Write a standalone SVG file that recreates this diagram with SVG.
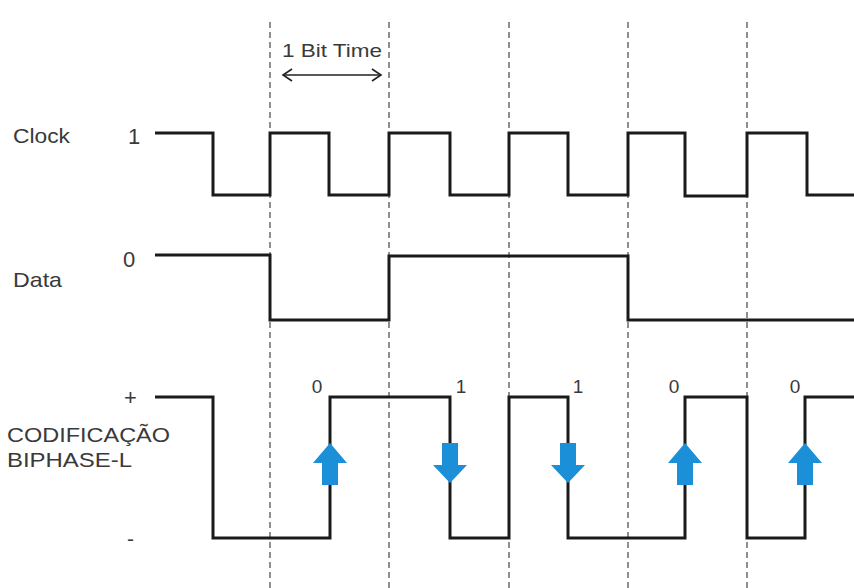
<svg xmlns="http://www.w3.org/2000/svg" width="854" height="588" viewBox="0 0 854 588">
<style>
.grid{stroke:#555;stroke-width:1.3;stroke-dasharray:6 4;fill:none}
.sig{stroke:#1a1a1a;stroke-width:3;fill:none;stroke-linejoin:miter}
.lbl{font-family:"Liberation Sans",Arial,sans-serif;fill:#3a3a3a;font-size:21px}
.lvl{font-family:"Liberation Sans",Arial,sans-serif;fill:#3a3a3a;font-size:22px}
.val{font-family:"Liberation Sans",Arial,sans-serif;fill:#3a3a3a;font-size:19px}
.bit{font-family:"Liberation Sans",Arial,sans-serif;fill:#3a3a3a;font-size:19px}
.arr{fill:#1b8fd8}
</style>
<rect width="854" height="588" fill="#fff"/>
<g id="gridlines">
<line class="grid" x1="270" y1="22" x2="270" y2="588"/>
<line class="grid" x1="389" y1="22" x2="389" y2="588"/>
<line class="grid" x1="509" y1="22" x2="509" y2="588"/>
<line class="grid" x1="628" y1="22" x2="628" y2="588"/>
<line class="grid" x1="747" y1="22" x2="747" y2="588"/>
</g>
<g id="bit-time">
<text class="bit" x="282" y="57" textLength="100" lengthAdjust="spacingAndGlyphs">1 Bit Time</text>
<g stroke="#222" stroke-width="1.6" fill="none">
<line x1="283" y1="75" x2="381" y2="75"/>
<polyline points="292,69 283,75 292,81"/>
<polyline points="372,69 381,75 372,81"/>
</g>
</g>
<g id="labels">
<text class="lbl" x="13" y="143" textLength="57" lengthAdjust="spacingAndGlyphs">Clock</text>
<text class="lvl" x="128" y="144">1</text>
<text class="lbl" x="13" y="287" textLength="49" lengthAdjust="spacingAndGlyphs">Data</text>
<text class="lvl" x="123" y="267">0</text>
<text class="lvl" x="124" y="405">+</text>
<text class="lbl" x="7" y="442" textLength="163" lengthAdjust="spacingAndGlyphs">CODIFICAÇÃO</text>
<text class="lbl" x="7" y="467" textLength="125" lengthAdjust="spacingAndGlyphs">BIPHASE-L</text>
<text class="lbl" x="127" y="546">-</text>
</g>
<g id="clock">
<polyline class="sig" points="155,133 213,133 213,195 270,195 270,133 329,133 329,195 389,195 389,133 450,133 450,195 509,195 509,133 568,133 568,195 628,195 628,133 685,133 685,196 747,196 747,133 807,133 807,195 854,195"/>
</g>
<g id="data">
<polyline class="sig" points="155,255 270,255 270,320 389,320 389,256 628,256 628,320 854,320"/>
</g>
<g id="biphase">
<polyline class="sig" points="155,397 213,397 213,538 330,538 330,397 450,397 450,538 509,538 509,397 568,397 568,538 685,538 685,397 747,397 747,538 805,538 805,397 854,397"/>
</g>
<g id="bit-values">
<text class="val" x="317" y="393" text-anchor="middle">0</text>
<text class="val" x="461" y="393" text-anchor="middle">1</text>
<text class="val" x="578" y="393" text-anchor="middle">1</text>
<text class="val" x="674" y="393" text-anchor="middle">0</text>
<text class="val" x="795" y="393" text-anchor="middle">0</text>
</g>
<g id="transition-arrows">
<polygon class="arr" points="330,443 347,463 338,463 338,485 322,485 322,463 313,463"/>
<polygon class="arr" points="442,443 458,443 458,465 467,465 450,483 433,465 442,465"/>
<polygon class="arr" points="560,443 576,443 576,465 585,465 568,483 551,465 560,465"/>
<polygon class="arr" points="685,443 702,463 693,463 693,485 677,485 677,463 668,463"/>
<polygon class="arr" points="805,443 822,463 813,463 813,485 797,485 797,463 788,463"/>
</g>
</svg>
